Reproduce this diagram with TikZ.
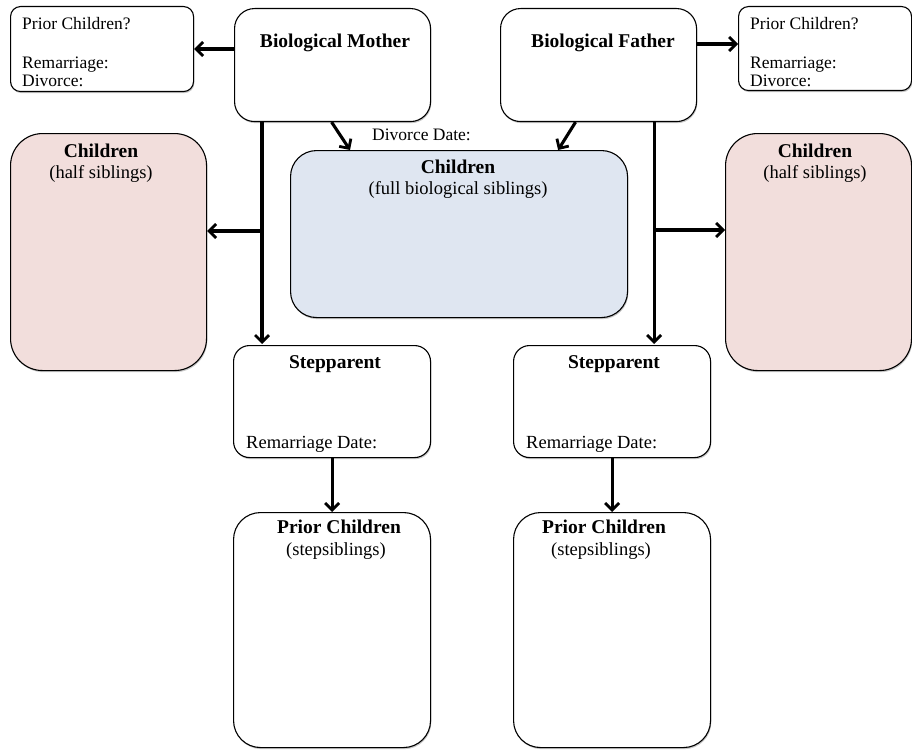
\documentclass[tikz,border=0pt]{standalone}
\usepackage{fontspec}
\setmainfont{Liberation Serif}
\usetikzlibrary{arrows.meta,shadows}
\definecolor{pinkfill}{RGB}{242,222,220}
\definecolor{bluefill}{RGB}{223,230,241}
\tikzset{
  box/.style={draw=black, fill=white, line width=1.1pt, inner sep=0pt, anchor=north west,
    drop shadow={shadow xshift=0.8pt, shadow yshift=-1.6pt, opacity=0.22, fill=black}},
  arr/.style={line width=3.1pt, -{Straight Barb[length=7pt,width=14pt,line width=2.8pt]}},
  stxt/.style={font=\fontsize{17.5}{19}\selectfont, inner sep=0pt},
  txt/.style={font=\fontsize{18.5}{20}\selectfont, inner sep=0pt},
  btxt/.style={font=\fontsize{19.5}{21}\selectfont\bfseries, inner sep=0pt},
}
\begin{document}
\begin{tikzpicture}[x=1pt,y=-1pt]
\useasboundingbox (0,0) rectangle (912,749);
% boxes
\node[box, rounded corners=10pt, minimum width=183pt, minimum height=85pt] (pcL) at (10,6) {};
\node[box, rounded corners=20pt, minimum width=196pt, minimum height=113pt] (mother) at (234,8) {};
\node[box, rounded corners=20pt, minimum width=196pt, minimum height=113pt] (father) at (500,8) {};
\node[box, rounded corners=10pt, minimum width=173pt, minimum height=84pt] (pcR) at (738,6) {};
\node[box, fill=pinkfill, rounded corners=32pt, minimum width=196pt, minimum height=237pt] (pinkL) at (10,133) {};
\node[box, fill=pinkfill, rounded corners=32pt, minimum width=186pt, minimum height=237pt] (pinkR) at (725,133) {};
\node[box, fill=bluefill, rounded corners=26pt, minimum width=337pt, minimum height=167pt] (blue) at (290,150) {};
\node[box, rounded corners=16pt, minimum width=197pt, minimum height=112pt] (stepL) at (233,345) {};
\node[box, rounded corners=16pt, minimum width=197pt, minimum height=112pt] (stepR) at (513,345) {};
\node[box, rounded corners=27pt, minimum width=197pt, minimum height=235pt] (priorL) at (233,512) {};
\node[box, rounded corners=27pt, minimum width=197pt, minimum height=235pt] (priorR) at (513,512) {};
% texts
\node[stxt, anchor=base west] (pcL1) at (22,30) {Prior Children?};
\node[stxt, anchor=base west] (pcL2) at (22,69) {Remarriage:};
\node[stxt, anchor=base west] (pcL3) at (22,87) {Divorce:};
\node[stxt, anchor=base west] (pcR1) at (750,30) {Prior Children?};
\node[stxt, anchor=base west] (pcR2) at (750,69) {Remarriage:};
\node[stxt, anchor=base west] (pcR3) at (750,87) {Divorce:};
\node[btxt, anchor=base] (motherT) at (335,48) {Biological Mother};
\node[btxt, anchor=base] (fatherT) at (603,48) {Biological Father};
\node[stxt, anchor=base west] (divT) at (372,140) {Divorce Date:};
\node[btxt, anchor=base] (blueT1) at (458,173) {Children};
\node[txt, anchor=base] (blueT2) at (458,194) {(full biological siblings)};
\node[btxt, anchor=base] (pinkLT1) at (101,157) {Children};
\node[txt, anchor=base] (pinkLT2) at (101,178) {(half siblings)};
\node[btxt, anchor=base] (pinkRT1) at (815,157) {Children};
\node[txt, anchor=base] (pinkRT2) at (815,178) {(half siblings)};
\node[btxt, anchor=base] (stepLT) at (335,368) {Stepparent};
\node[txt, anchor=base west] (stepLD) at (246,448) {Remarriage Date:};
\node[btxt, anchor=base] (stepRT) at (614,368) {Stepparent};
\node[txt, anchor=base west] (stepRD) at (526,448) {Remarriage Date:};
\node[btxt, anchor=base] (priorLT) at (339,533) {Prior Children};
\node[txt, anchor=base] (priorLS) at (336,555) {(stepsiblings)};
\node[btxt, anchor=base] (priorRT) at (604,533) {Prior Children};
\node[txt, anchor=base] (priorRS) at (601,555) {(stepsiblings)};
% connectors
\draw[arr] (mother.west |- 0,49) -- (pcL.east |- 0,49);
\draw[arr] (father.east |- 0,44) -- (pcR.west |- 0,44);
\coordinate (mtop) at ([xshift=28pt]mother.south west);
\coordinate (mj) at (262,231);
\draw[arr] (mtop) -- ([yshift=1pt]mtop |- stepL.north);
\draw[arr] (mj) -- (mj -| pinkL.east);
\coordinate (ftop) at ([xshift=-43pt]father.south east);
\coordinate (fj) at (653,230);
\draw[arr] (ftop) -- ([yshift=1pt]ftop |- stepR.north);
\draw[arr] (fj) -- (fj -| pinkR.west);
\draw[arr] ([xshift=-1pt]mother.south) -- ([xshift=60pt]blue.north west);
\draw[arr] ([xshift=-23pt]father.south) -- ([xshift=-70pt]blue.north east);
\draw[arr] (stepL.south) -- (stepL.south |- priorL.north);
\draw[arr] (stepR.south) -- (stepR.south |- priorR.north);
\end{tikzpicture}
\end{document}
